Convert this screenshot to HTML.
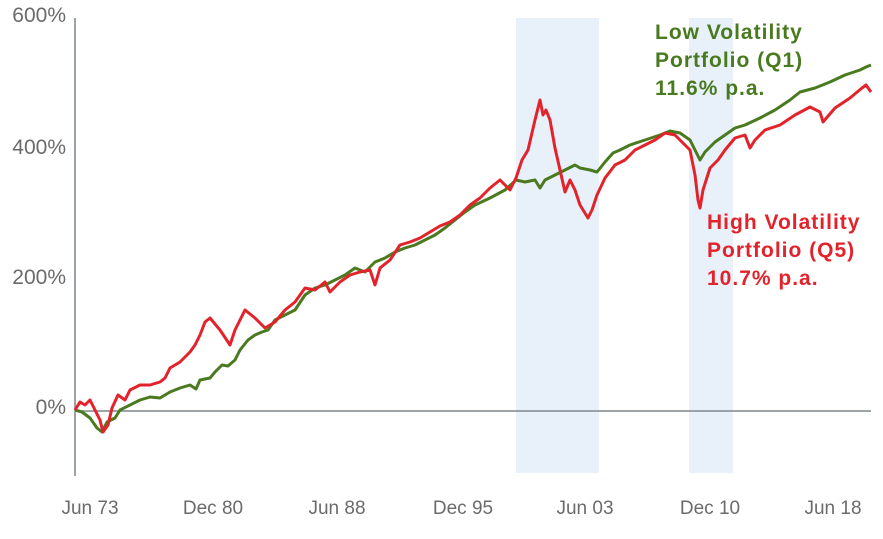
<!DOCTYPE html>
<html><head><meta charset="utf-8"><style>
body{margin:0;background:#fff;}
svg{display:block;font-family:"Liberation Sans",sans-serif;}
</style></head><body>
<svg width="883" height="539" viewBox="0 0 883 539">
<rect x="516" y="18" width="83" height="455" fill="#e8f1fa"/>
<rect x="689" y="18" width="44" height="455" fill="#e8f1fa"/>
<line x1="75" y1="18" x2="75" y2="476" stroke="#7d858c" stroke-width="1.5"/>
<line x1="75" y1="411" x2="871" y2="411" stroke="#7d858c" stroke-width="1.5"/>
<g fill="#6b6b6b" font-size="21" text-anchor="end">
<text x="66" y="22">600%</text>
<text x="66" y="154">400%</text>
<text x="66" y="284">200%</text>
<text x="66" y="414">0%</text>
</g>
<g fill="#6b6b6b" font-size="19" text-anchor="middle">
<text x="90" y="514">Jun 73</text>
<text x="213" y="514">Dec 80</text>
<text x="337" y="514">Jun 88</text>
<text x="463" y="514">Dec 95</text>
<text x="585" y="514">Jun 03</text>
<text x="710" y="514">Dec 10</text>
<text x="833" y="514">Jun 18</text>
</g>
<polyline fill="none" stroke="#4a7a1f" stroke-width="3" stroke-linejoin="round" points="75,410 82,412 90,418 97,428 102,432 107,422 115,418 120,410 130,405 140,400 150,397 160,398 170,392 180,388 190,385 196,389 200,380 210,378 215,372 222,365 228,366 235,360 240,350 248,340 255,335 262,332 268,330 275,320 285,315 295,310 305,295 315,288 325,285 335,280 345,275 355,268 365,272 375,262 385,258 395,252 405,248 415,245 425,240 435,235 445,228 455,220 465,212 475,205 490,198 505,190 516,180 525,182 535,180 540,188 545,180 555,175 565,170 575,165 580,168 590,170 597,172 605,162 613,153 620,150 630,145 645,140 660,135 670,131 680,133 690,140 700,160 705,152 715,142 725,135 735,128 745,125 760,118 775,110 790,100 800,92 815,88 830,82 845,75 860,70 866,67 871,65"/>
<polyline fill="none" stroke="#e3232b" stroke-width="3" stroke-linejoin="round" points="75,410 80,402 85,405 90,400 95,410 100,420 103,432 108,425 112,408 118,395 125,400 130,390 140,385 150,385 160,382 165,378 170,368 180,362 190,352 195,345 200,335 205,322 210,318 220,330 230,345 235,330 245,310 255,318 265,328 275,322 285,310 295,302 305,288 315,290 325,282 330,292 340,282 350,275 360,272 370,270 375,285 380,268 390,260 400,245 410,242 420,238 430,232 440,226 450,222 460,215 470,205 480,198 490,188 500,180 510,190 516,178 522,160 528,150 535,120 540,100 543,115 546,110 550,120 555,148 560,170 565,192 570,180 575,190 580,205 588,218 592,210 597,195 605,178 615,165 625,160 635,150 645,145 655,140 665,133 675,135 685,145 690,150 695,175 698,200 700,208 703,190 710,168 718,160 725,150 735,138 745,135 750,148 755,140 765,130 780,125 795,115 810,107 820,112 823,122 835,108 850,98 862,88 866,85 871,92"/>
<g font-size="21" font-weight="bold" fill="#4a7a1f" letter-spacing="1">
<text x="655" y="39">Low Volatility</text>
<text x="655" y="67">Portfolio (Q1)</text>
<text x="655" y="95">11.6% p.a.</text>
</g>
<g font-size="21" font-weight="bold" fill="#e3232b" letter-spacing="1">
<text x="707" y="229">High Volatility</text>
<text x="707" y="257">Portfolio (Q5)</text>
<text x="707" y="285">10.7% p.a.</text>
</g>
</svg>
</body></html>
